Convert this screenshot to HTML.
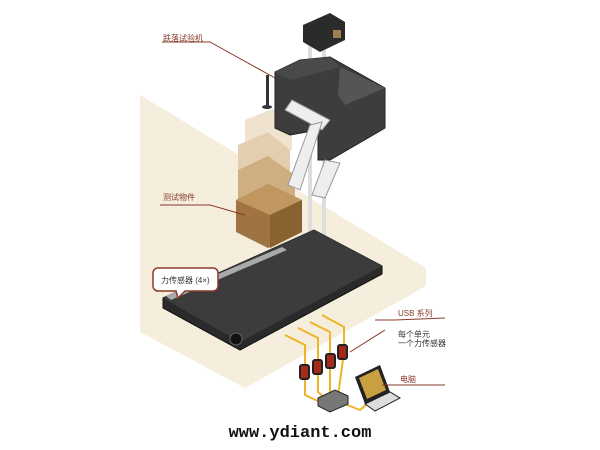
<!DOCTYPE html>
<html><head><meta charset="utf-8"><style>
html,body{margin:0;padding:0;background:#fff}
svg{display:block}
</style></head><body>
<svg width="600" height="450" viewBox="0 0 600 450" xmlns="http://www.w3.org/2000/svg" font-family="Liberation Sans, Noto Sans CJK SC, sans-serif">
<rect width="600" height="450" fill="#fff"/>
<!-- floor -->
<polygon points="140,95 426,268 426,286 245,388 140,332" fill="#f5eedd"/>
<!-- ghost boxes -->
<polygon points="245,120 275,108 292,125 292,150 262,165 245,150" fill="#efe3cf"/>
<polygon points="238,145 268,132 290,150 290,178 258,192 238,176" fill="#e3cfb0"/>
<polygon points="238,170 268,156 295,175 295,205 262,220 238,202" fill="#cfae82"/>
<!-- main box -->
<polygon points="236,200 268,184 302,200 302,232 268,248 236,232" fill="#9f7442"/>
<polygon points="236,200 268,184 302,200 270,215" fill="#c19760"/>
<polygon points="270,215 302,200 302,232 270,248" fill="#8a6232"/>
<!-- poles -->
<rect x="308" y="40" width="4" height="200" fill="#ddd"/>
<rect x="322" y="40" width="4" height="200" fill="#ddd"/>
<!-- camera -->
<polygon points="303,25 330,13 345,22 345,40 320,52 303,42" fill="#2b2b2b"/>
<rect x="333" y="30" width="8" height="8" fill="#a08050"/>
<!-- machine -->
<polygon points="275,72 300,60 330,57 385,88 385,128 330,160 318,160 318,130 290,135 275,128" fill="#3d3d3d" stroke="#222"/>
<polygon points="340,67 385,88 345,105 338,95" fill="#555"/>
<polygon points="275,72 300,60 330,57 340,67 290,80" fill="#4a4a4a"/>
<!-- stand -->
<rect x="266" y="75" width="3" height="30" fill="#333"/>
<ellipse cx="267" cy="107" rx="5" ry="2" fill="#333"/>
<!-- arms -->
<polygon points="285,110 292,100 330,120 322,130" fill="#eee" stroke="#999"/>
<polygon points="310,125 322,122 300,190 288,185" fill="#eee" stroke="#999"/>
<polygon points="325,160 340,163 325,198 312,195" fill="#eee" stroke="#999"/>
<!-- plate -->
<polygon points="163,298 314,230 382,266 382,274 240,350 163,308" fill="#2a2a2a" stroke="#111"/>
<polygon points="163,298 314,230 382,266 240,342" fill="#3c3c3c"/>
<polygon points="166,296 282,247 287,250 171,300" fill="#aaa"/>
<circle cx="236" cy="339" r="6" fill="#111" stroke="#666"/>
<!-- cables -->
<g fill="none" stroke="#f0b428" stroke-width="2">
<polyline points="285,335 305,345 305,372 305,395 320,402"/>
<polyline points="298,328 318,338 318,368 318,392 325,398"/>
<polyline points="310,322 330,332 330,360 330,392 332,396"/>
<polyline points="322,315 344,327 344,352 338,396"/>
<polyline points="345,404 360,410 372,400"/>
</g>
<!-- usb units -->
<g fill="#a52a1a" stroke="#222" stroke-width="2">
<rect x="300" y="365" width="9" height="14" rx="2"/>
<rect x="313" y="360" width="9" height="14" rx="2"/>
<rect x="326" y="354" width="9" height="14" rx="2"/>
<rect x="338" y="345" width="9" height="14" rx="2"/>
</g>
<!-- hub -->
<polygon points="318,398 335,390 348,396 348,404 330,412 318,406" fill="#777" stroke="#222"/>
<!-- laptop -->
<polygon points="355,377 380,365 390,392 365,404" fill="#222"/>
<polygon points="359,378 378,369 386,390 367,399" fill="#c8a040"/>
<polygon points="365,404 390,392 400,398 375,411" fill="#ddd" stroke="#222"/>
<!-- leader lines -->
<g stroke="#8a3a2a" fill="none" stroke-width="1">
<polyline points="162,42 210,42 275,78"/>
<polyline points="160,205 210,205 245,215"/>
<polyline points="375,320 395,320 445,318"/>
<line x1="350" y1="352" x2="385" y2="330"/>
<polyline points="382,385 400,385 445,385"/>
</g>
<!-- callout -->
<path d="M158,268 h55 a5,5 0 0 1 5,5 v13 a5,5 0 0 1 -5,5 h-28 l-7,7 l-2,-7 h-18 a5,5 0 0 1 -5,-5 v-13 a5,5 0 0 1 5,-5z" fill="#fff" stroke="#8a3a2a" stroke-width="1.5"/>
<g font-size="8" fill="#8a3a2a">
<text x="163" y="41">跌落试验机</text>
<text x="163" y="200">测试物件</text>
<text x="161" y="283" fill="#333">力传感器 (4×)</text>
<text x="398" y="316">USB 系列</text>
<text x="398" y="337" fill="#333">每个单元</text>
<text x="398" y="346" fill="#333">一个力传感器</text>
<text x="400" y="382">电脑</text>
</g>
<text x="300" y="437" text-anchor="middle" style="font-family:'Liberation Mono',monospace;font-weight:bold;font-size:17px" fill="#111">www.ydiant.com</text>
</svg>
</body></html>
